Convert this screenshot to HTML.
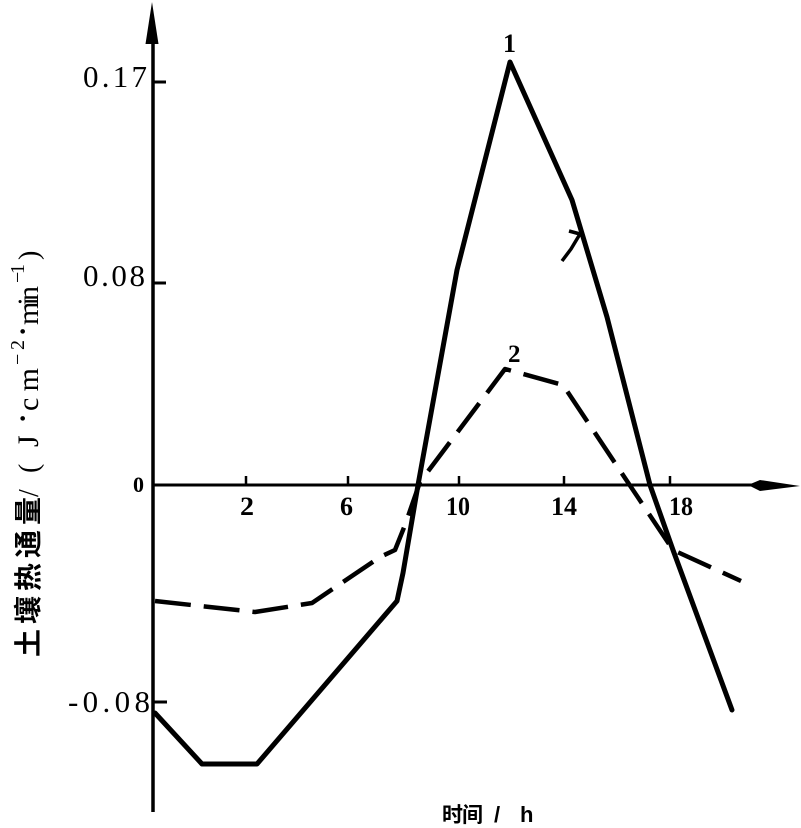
<!DOCTYPE html>
<html>
<head>
<meta charset="utf-8">
<style>
  html, body { margin:0; padding:0; background:#fff; }
  body { width:801px; height:828px; overflow:hidden; }
  svg { display:block; }
  .num { font-family:"Liberation Serif", serif; fill:#000; }
  .cjk { font-family:"Liberation Sans", "Noto Sans CJK SC", sans-serif; font-weight:bold; fill:#000; }
</style>
</head>
<body>
<svg width="801" height="828" viewBox="0 0 801 828" xmlns="http://www.w3.org/2000/svg">
  <rect width="801" height="828" fill="#fff"/>

  <!-- Y axis -->
  <line x1="153" y1="38" x2="153" y2="812" stroke="#000" stroke-width="3.5"/>
  <polygon points="152,2 145.5,44 158.5,44" fill="#000"/>
  <!-- Y ticks -->
  <line x1="153" y1="82" x2="166" y2="82" stroke="#000" stroke-width="3"/>
  <line x1="153" y1="283" x2="166" y2="283" stroke="#000" stroke-width="3"/>
  <line x1="153" y1="702" x2="167" y2="702" stroke="#000" stroke-width="3"/>

  <!-- X axis -->
  <line x1="153" y1="485" x2="755" y2="485" stroke="#000" stroke-width="3"/>
  <polygon points="748,485 760,480 800,486 760,491" fill="#000"/>
  <!-- X ticks -->
  <g stroke="#000" stroke-width="2.5">
    <line x1="246" y1="476" x2="246" y2="485"/>
    <line x1="348" y1="476" x2="348" y2="485"/>
    <line x1="459" y1="476" x2="459" y2="485"/>
    <line x1="564" y1="476" x2="564" y2="485"/>
    <line x1="670" y1="476" x2="670" y2="485"/>
  </g>

  <!-- Y tick labels -->
  <text class="num" x="83" y="87" font-size="31" textLength="64" lengthAdjust="spacing">0.17</text>
  <text class="num" x="83" y="286" font-size="31" textLength="62" lengthAdjust="spacing">0.08</text>
  <text class="num" x="133" y="492" font-size="22" font-weight="bold">0</text>
  <text class="num" x="68" y="712" font-size="31" textLength="82" lengthAdjust="spacing">-0.08</text>

  <!-- X tick labels -->
  <g class="num" font-size="26" font-weight="bold">
    <text x="240" y="515" textLength="14" lengthAdjust="spacingAndGlyphs">2</text>
    <text x="340" y="515" textLength="13" lengthAdjust="spacingAndGlyphs">6</text>
    <text x="446" y="515" textLength="24" lengthAdjust="spacingAndGlyphs">10</text>
    <text x="551" y="515" textLength="26" lengthAdjust="spacingAndGlyphs">14</text>
    <text x="669" y="515" textLength="24" lengthAdjust="spacingAndGlyphs">18</text>
  </g>

  <!-- Curve labels -->
  <text class="num" x="503" y="52" font-size="26" font-weight="bold">1</text>
  <text class="num" x="508" y="362" font-size="25" font-weight="bold">2</text>

  <!-- Curve 1 (solid) -->
  <polyline fill="none" stroke="#000" stroke-width="5" stroke-linejoin="round" stroke-linecap="round"
    points="155,713 202,764 257,764 397,601 403,573 418,485 457,270 510,62 572,200 607,317 650,485 673,550 732,710"/>

  <!-- small hook mark -->
  <path d="M569,231 L580,234 L571,249 L562,261" fill="none" stroke="#000" stroke-width="3.5" stroke-linejoin="round"/>

  <!-- Curve 2 (dashed) -->
  <polyline fill="none" stroke="#000" stroke-width="4.5" stroke-dasharray="36 13" stroke-linejoin="round"
    points="155,601 255,612 312,603 380,557 395,550 405,525 420,482 505,369 563,385 673,550 741,581"/>

  <!-- X axis title -->
  <text class="cjk" x="442" y="822" font-size="21" textLength="41" lengthAdjust="spacing">时间</text>
  <text class="cjk" x="494" y="822" font-size="22">/</text>
  <text class="cjk" x="520" y="822" font-size="22">h</text>

  <!-- Y axis title -->
  <g transform="translate(38,657) rotate(-90)">
    <text class="cjk" x="0" y="0" font-size="28" textLength="160" lengthAdjust="spacing">土壤热通量</text>
    <text class="num" x="160" y="0" font-size="28">/</text>
    <text class="num" x="184" y="0" font-size="28">(</text>
    <text class="num" x="210" y="0" font-size="30">J</text>
    <text class="num" x="234" y="-6" font-size="28" font-weight="bold">·</text>
    <text class="num" x="246" y="0" font-size="30" textLength="43" lengthAdjust="spacing">cm</text>
    <text class="num" x="292" y="-14" font-size="20" textLength="25" lengthAdjust="spacing">−2</text>
    <text class="num" x="321" y="-6" font-size="28" font-weight="bold">·</text>
    <text class="num" x="332" y="0" font-size="30" textLength="39" lengthAdjust="spacing">min</text>
    <text class="num" x="374" y="-14" font-size="20" textLength="19" lengthAdjust="spacing">−1</text>
    <text class="num" x="397" y="0" font-size="28">)</text>
  </g>
</svg>
</body>
</html>
